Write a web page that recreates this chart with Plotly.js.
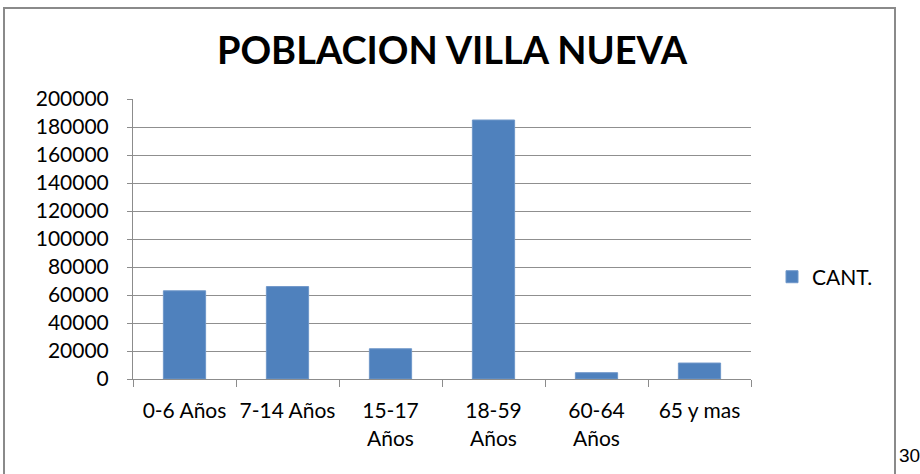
<!DOCTYPE html>
<html>
<head>
<meta charset="utf-8">
<script src="https://cdn.plot.ly/plotly-3.0.1.min.js"></script>
<style>
html,body{margin:0;padding:0;background:#fff;}
#chart{width:920px;height:474px;}
</style>
</head>
<body>
<div id="chart"></div>
<script>
const categories = ["0-6 Años", "7-14 Años", "15-17<br>Años", "18-59<br>Años", "60-64<br>Años", "65 y mas"];
const cantValues = [63000, 66000, 21600, 185000, 4500, 11400];
const seriesName = "CANT.";
const chartTitle = "POBLACION VILLA NUEVA";
const pageNumber = "30";

const font = "Lato, 'Open Sans', sans-serif";

const data = [{
  type: "bar",
  x: categories,
  y: cantValues,
  name: seriesName,
  marker: {color: "#4F81BD", line: {color: "#6f97c9", width: 1}},
  hoverinfo: "x+y"
}];

const layout = {
  width: 920,
  height: 474,
  paper_bgcolor: "#ffffff",
  plot_bgcolor: "#ffffff",
  margin: {l: 133, r: 169, t: 99, b: 95},
  font: {family: font, color: "#000000", size: 21},
  title: {
    text: "<b>" + chartTitle + "</b>",
    font: {family: font, size: 38, color: "#000000"},
    x: 452 / 920, xref: "container", xanchor: "center",
    y: 1 - 51 / 474, yref: "container", yanchor: "middle"
  },
  bargap: 0.59,
  showlegend: true,
  legend: {
    x: 1.034, xanchor: "left",
    y: 0.364, yanchor: "middle",
    itemwidth: 30,
    font: {family: font, size: 21, color: "#000000"},
    bgcolor: "rgba(0,0,0,0)"
  },
  xaxis: {
    type: "category",
    showgrid: false,
    showline: true, linecolor: "#8c8c8c", linewidth: 1,
    ticks: "outside", tickson: "boundaries", ticklen: 7, tickcolor: "#8c8c8c",
    tickfont: {family: font, size: 21, color: "#000000"},
    ticklabelstandoff: 13,
    tickangle: 0,
    fixedrange: true
  },
  yaxis: {
    range: [0, 200000],
    dtick: 20000, tick0: 0,
    tickformat: "d",
    showgrid: true, gridcolor: "#8f8f8f", gridwidth: 1,
    showline: true, linecolor: "#8c8c8c", linewidth: 1,
    ticks: "outside", ticklen: 5, tickcolor: "#8c8c8c",
    tickfont: {family: font, size: 21, color: "#000000"},
    ticklabelstandoff: 14,
    zeroline: false,
    fixedrange: true
  },
  shapes: [{
    type: "rect", xref: "paper", yref: "paper",
    x0: (4 - 133) / 618, x1: (895 - 133) / 618,
    y0: (379 - 490) / 280, y1: (379 - 8) / 280,
    line: {color: "#8a8a8a", width: 2},
    fillcolor: "rgba(0,0,0,0)",
    layer: "below"
  }],
  annotations: [{
    text: pageNumber,
    xref: "paper", yref: "paper",
    x: (897 - 133) / 618, y: (379 - 455) / 280,
    xanchor: "left", yanchor: "middle",
    showarrow: false,
    font: {family: "'Liberation Sans', Arial, sans-serif", size: 19, color: "#000000"}
  }]
};

Plotly.newPlot("chart", data, layout, {displayModeBar: false, staticPlot: true});
</script>
</body>
</html>
